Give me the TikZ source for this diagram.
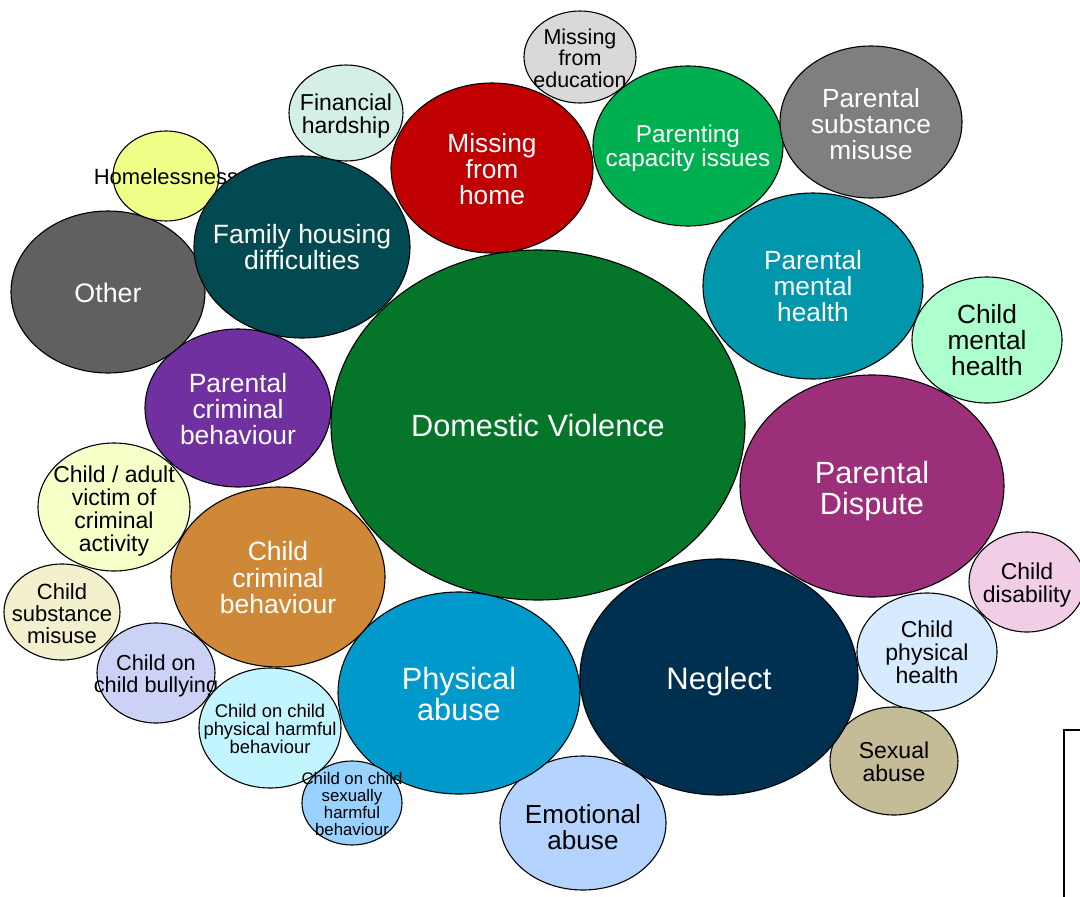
\documentclass[tikz,border=0pt]{standalone}
\usepackage{fontspec}
\setmainfont{Liberation Sans}
\definecolor{cDV}{HTML}{05752A}
\definecolor{cMFH}{HTML}{C00000}
\definecolor{cMFE}{HTML}{D9D9D9}
\definecolor{cPCI}{HTML}{00B050}
\definecolor{cPSM}{HTML}{7F7F7F}
\definecolor{cPMH}{HTML}{0096AB}
\definecolor{cCMH}{HTML}{ADFFCE}
\definecolor{cPD}{HTML}{9B2F7A}
\definecolor{cCD}{HTML}{F2CDE6}
\definecolor{cCPH}{HTML}{D6EBFF}
\definecolor{cSA}{HTML}{C4BB97}
\definecolor{cNG}{HTML}{00304F}
\definecolor{cEA}{HTML}{B4D3FF}
\definecolor{cPA}{HTML}{0099CC}
\definecolor{cCCB}{HTML}{CF8838}
\definecolor{cPCB}{HTML}{7030A0}
\definecolor{cVIC}{HTML}{F7FFC8}
\definecolor{cCSM}{HTML}{F3F1CD}
\definecolor{cBUL}{HTML}{CBD2F5}
\definecolor{cPHB}{HTML}{C2F5FF}
\definecolor{cSHB}{HTML}{99D2FF}
\definecolor{cOTH}{HTML}{606060}
\definecolor{cFHD}{HTML}{024A52}
\definecolor{cHOM}{HTML}{F0FF88}
\definecolor{cFIN}{HTML}{D4EFE5}
\tikzset{
  bub/.style={draw=black, line width=1.1pt},
  lbl/.style={align=center, inner sep=0pt},
  frameline/.style={draw=black, line width=1.5pt},
}
\newcommand{\bubble}[9]{%
  \path[bub, fill=#6] (#2,#3) ellipse [x radius=#4pt, y radius=#5pt];
  \node[lbl, #7, font=\fontsize{#8}{#8}\selectfont] (#1) at (#2,#3) {#9};
}
\begin{document}
\begin{tikzpicture}[x=1pt,y=-1pt]
\useasboundingbox (0,0) rectangle (1080,897);
\bubble{dv}{538}{425}{207}{175}{cDV}{text=white,yshift=-1pt}{30.7}{Domestic Violence}
\bubble{mfh}{492}{168}{101}{85}{cMFH}{text=white,yshift=-1pt}{26.3}{Missing\\from\\home}
\bubble{mfe}{580}{57}{56}{46}{cMFE}{text=black,yshift=-1pt}{21.5}{Missing\\from\\education}
\bubble{pci}{688}{146}{95}{80}{cPCI}{text=white,yshift=-2.5pt}{24.3}{Parenting\\capacity issues}
\bubble{psm}{871}{122}{91}{76}{cPSM}{text=white,yshift=-2pt}{26.3}{Parental\\substance\\misuse}
\bubble{pmh}{813}{286}{110}{93}{cPMH}{text=white}{26.3}{Parental\\mental\\health}
\bubble{cmh}{987}{340}{75}{63}{cCMH}{text=black}{26.3}{Child\\mental\\health}
\bubble{pd}{872}{486}{132}{111}{cPD}{text=white,yshift=-5pt}{30.7}{Parental\\Dispute}
\bubble{cd}{1027}{582}{58}{50}{cCD}{text=black,yshift=-3.5pt}{23}{Child\\disability}
\bubble{cph}{927}{652}{70}{59}{cCPH}{text=black,yshift=-0.5pt}{23}{Child\\physical\\health}
\bubble{sa}{894}{761}{64}{54}{cSA}{text=black,yshift=-1pt}{23}{Sexual\\abuse}
\bubble{ng}{719}{677}{139}{118}{cNG}{text=white,yshift=-4pt}{31}{Neglect}
\bubble{ea}{583}{823}{83}{67}{cEA}{text=black,yshift=-4pt}{26.1}{Emotional\\abuse}
\bubble{pa}{459}{693}{121}{101}{cPA}{text=white,yshift=-1pt}{30.7}{Physical\\abuse}
\bubble{ccb}{278}{577}{107}{90}{cCCB}{text=white,yshift=-1pt}{26.5}{Child\\criminal\\behaviour}
\bubble{pcb}{238}{408}{93}{79}{cPCB}{text=white,yshift=-1pt}{26.4}{Parental\\criminal\\behaviour}
\bubble{vic}{114}{507}{76}{64}{cVIC}{text=black,yshift=-4pt}{23}{Child / adult\\victim of\\criminal\\activity}
\bubble{csm}{62}{612}{58}{48}{cCSM}{text=black,yshift=-2pt}{22}{Child\\substance\\misuse}
\bubble{bul}{156}{673}{59}{50}{cBUL}{text=black,yshift=-3pt}{21.7}{Child on\\child bullying}
\bubble{phb}{270}{728}{71}{60}{cPHB}{text=black,yshift=-1pt}{18.4}{Child on child\\physical harmful\\behaviour}
\bubble{shb}{352}{803}{50}{42}{cSHB}{text=black,yshift=-1pt}{16.8}{Child on child\\sexually\\harmful\\behaviour}
\bubble{oth}{108}{292}{97}{81}{cOTH}{text=white,yshift=-1pt}{26.8}{Other}
\bubble{hom}{166}{176}{53}{45}{cHOM}{text=black,yshift=-1pt}{22}{Homelessness}
\bubble{fhd}{302}{247}{108}{91}{cFHD}{text=white}{26.5}{Family housing\\difficulties}
\bubble{fin}{346}{113}{57}{48}{cFIN}{text=black,yshift=-3pt}{23}{Financial\\hardship}
\coordinate (fr1) at (1080,730);
\coordinate (fr2) at (1064,730);
\coordinate (fr3) at (1064,897);
\path[frameline] (fr1) -- (fr2) -- (fr3);
\end{tikzpicture}
\end{document}
